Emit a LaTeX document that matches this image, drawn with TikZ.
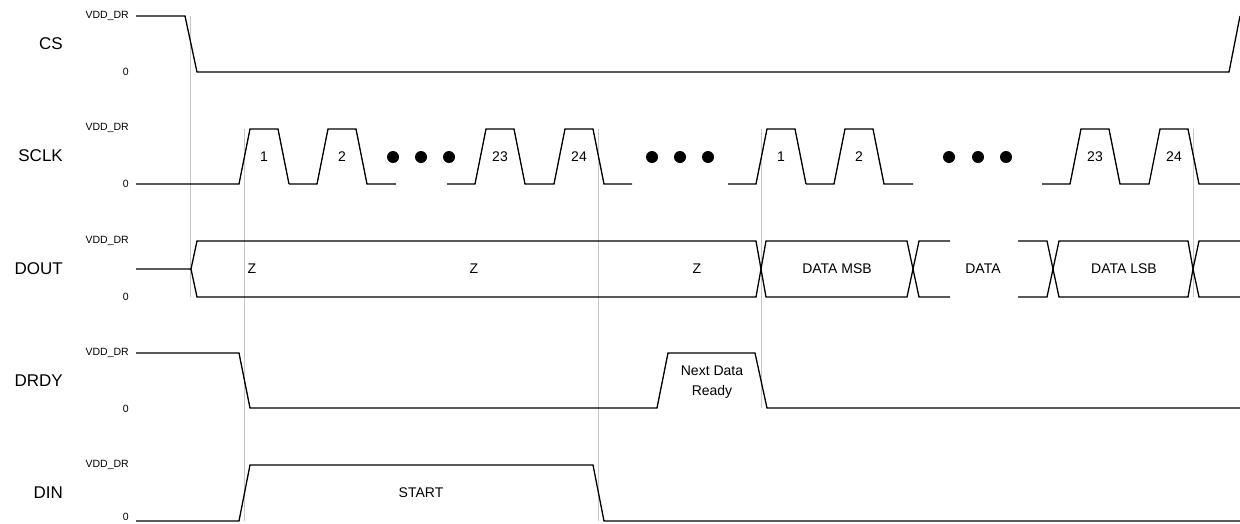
\documentclass[tikz,border=0pt]{standalone}
\usepackage{fontspec}
\setmainfont{Liberation Sans}
\usetikzlibrary{positioning,calc}

\begin{document}
\begin{tikzpicture}[x=1pt,y=-1pt,
    sig/.style={black,line width=1.3pt,line join=miter},
    guide/.style={gray!45,line width=0.9pt},
    signame/.style={font=\fontsize{17}{20}\selectfont,anchor=east,inner sep=0pt},
    lvl/.style={font=\fontsize{10.5}{12}\selectfont,anchor=east,inner sep=0pt},
    lab/.style={font=\fontsize{14}{20}\selectfont,align=center,inner sep=0pt}]
    \useasboundingbox (0,0) rectangle (1240,523);
    % guide lines
    \draw[guide] (190,16) -- (190,297);
    \draw[guide] (244,129) -- (244,521);
    \draw[guide] (598,129) -- (598,521);
    \draw[guide] (761,129) -- (761,408);
    \draw[guide] (1193,129) -- (1193,297);
    % names and levels
    \foreach \nm/\y/\id in {CS/44/cs,SCLK/156/sclk,DOUT/269/dout,DRDY/381/drdy} {
        \node[signame] (\id) at (63,\y) {\nm};
        \node[lvl] (\id hi) at (129,\y-28) {VDD\_DR};
        \node[lvl] (\id lo) at (129,\y+28) {0};
    }
    \node[signame] (din) at (63,493) {DIN};
    \node[lvl] (din hi) at (129,465) {VDD\_DR};
    \node[lvl] (din lo) at (129,517) {0};
    % CS
    \draw[sig] (136,16) -- (185,16) -- (197,72) -- (1229,72) -- (1240,16);
    % SCLK
    \foreach \a/\s/\e/\n in {136/239/289/1,289/317/396/2,447/475/526/23,526/554/632/24,
                             728/756/806/1,806/834/913/2,1042/1070/1121/23,1121/1149/1240/24} {
        \draw[sig] (\a,184) -- (\s,184) -- (\s+11,129) -- (\s+39,129) -- (\s+50,184) -- (\e,184);
        \node[lab] (clk\s) at (\s+25,157) {\n};
    }
    \foreach \x in {393,421,449,652,680,708,949,978,1006}
        \fill (\x,157) circle (6);
    % DOUT
    \draw[sig] (136,269) -- (191,269) -- (197,241) -- (756,241) -- (761,269) -- (756,297) -- (197,297) -- (191,269);
    \draw[sig] (761,269) -- (766,241) -- (907,241) -- (913,269) -- (907,297) -- (766,297) -- cycle;
    \draw[sig] (950,241) -- (919,241) -- (913,269) -- (919,297) -- (950,297);
    \draw[sig] (1018,241) -- (1047,241) -- (1053,269) -- (1047,297) -- (1018,297);
    \draw[sig] (1053,269) -- (1059,241) -- (1188,241) -- (1193,269) -- (1188,297) -- (1059,297) -- cycle;
    \draw[sig] (1240,241) -- (1199,241) -- (1193,269) -- (1199,297) -- (1240,297);
    \foreach \x/\t/\id in {252/Z/z1,474/Z/z2,697/Z/z3,837/DATA MSB/msb,983/DATA/mid,1124/DATA LSB/lsb}
        \node[lab] (\id) at (\x,269) {\t};
    % DRDY
    \draw[sig] (136,353) -- (239,353) -- (250,408) -- (657,408) -- (668,353) -- (755,353) -- (767,408) -- (1240,408);
    \node[lab] (ready) at (712,382) {Next Data\\Ready};
    % DIN
    \draw[sig] (136,521) -- (239,521) -- (250,465) -- (593,465) -- (604,521) -- (1240,521);
    \node[lab] (start) at (421,493) {START};
\end{tikzpicture}
\end{document}
